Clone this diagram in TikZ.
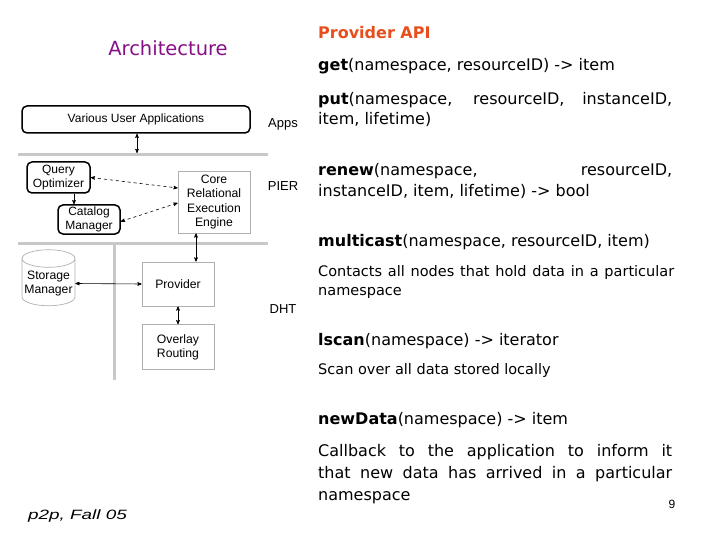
\documentclass[tikz,border=0pt]{standalone}
\usepackage{fontspec}
\setmainfont{DejaVu Sans}
\newfontfamily\archfont{Liberation Sans}
\usetikzlibrary{shapes.geometric,arrows,positioning}
\definecolor{apiorange}{RGB}{232,78,28}
\definecolor{archpurple}{RGB}{135,15,135}
\definecolor{sepgray}{RGB}{200,200,200}
\definecolor{boxgray}{RGB}{175,175,175}

\begin{document}
\begin{tikzpicture}[x=1pt,y=-1pt,
	layerbox/.style={draw,rounded corners=5pt,line width=1.5pt,align=center,inner sep=1pt,font=\archfont\fontsize{12}{14}\selectfont},
	greybox/.style={draw=boxgray,line width=0.7pt,align=center,inner sep=1pt,font=\archfont\fontsize{12.2}{14.5}\selectfont},
	layerlabel/.style={font=\archfont\fontsize{13}{15}\selectfont},
	apitext/.style={anchor=base west,inner sep=0pt,text width=354pt,align=justify,font=\fontsize{16}{20}\selectfont},
	apinote/.style={anchor=base west,inner sep=0pt,text width=356pt,align=justify,font=\fontsize{14.5}{20}\selectfont}]
	\useasboundingbox (0,0) rectangle (720,540);

	\node[archpurple,font=\fontsize{19.5}{22}\selectfont] (title) at (168,48) {Architecture};

	\fill[sepgray] (18,153.5) rectangle (268,156.5);
	\fill[sepgray] (18,241.5) rectangle (268,244.5);
	\fill[sepgray] (112.5,243) rectangle (115.5,380);

	\node[layerbox,minimum width=228pt,minimum height=27pt] (apps) at (136,119.5) {Various User Applications};
	\coordinate (appsend) at (137,153);
	\node[layerbox,minimum width=63pt,minimum height=31pt] (query) at (58.5,177.5) {Query\\Optimizer};
	\node[layerbox,minimum width=62pt,minimum height=29pt] (catalog) at (89,219.5) {Catalog\\Manager};
	\node[greybox,minimum width=72pt,minimum height=62pt] (core) at (214,202) {Core\\Relational\\Execution\\Engine};
	\node[greybox,minimum width=72pt,minimum height=44pt] (provider) at (178,284) {Provider};
	\node[greybox,minimum width=72pt,minimum height=45pt,below=18pt of provider] (overlay) {Overlay\\Routing};
	\node[greybox,cylinder,shape border rotate=90,aspect=0.35,minimum width=53pt,minimum height=56pt] (storage) at (48.5,283.5) {Storage\\Manager};

	\foreach \lbl/\y in {Apps/124,PIER/186,DHT/309}
		\node[layerlabel] (\lbl) at (283,\y) {\lbl};

	\path[<->,>=stealth',semithick]
		([xshift=1pt]apps.south) edge (appsend)
		(storage.east) edge (provider.west)
		(provider.south) edge (overlay.north)
		([xshift=18pt]provider.north) edge ([xshift=18pt]provider.north |- core.south);
	\path[->,>=stealth',semithick]
		([xshift=15.5pt]query.south) edge ([xshift=15.5pt]query.south |- catalog.north);
	\path[<->,>=stealth',semithick,dashed]
		(query.east) edge ([yshift=14pt]core.west)
		([yshift=-2pt]catalog.east) edge ([yshift=-1pt]core.west);

	\node[anchor=base west,inner sep=0pt,apiorange,font=\bfseries\fontsize{16}{20}\selectfont] (head) at (318,38.5) {Provider API};
	\node[apitext] (get) at (318,70.5) {\textbf{get}(namespace, resourceID) -> item};
	\node[apitext] (put) at (318,104.5) {\textbf{put}(namespace, resourceID, instanceID,\linebreak item, lifetime)};
	\node[apitext,font=\fontsize{16}{21}\selectfont] (renew) at (318,175.5) {\textbf{renew}(namespace, \hfill resourceID,\linebreak instanceID, item, lifetime) -> bool};
	\node[apitext] (multicast) at (318,246.5) {\textbf{multicast}(namespace, resourceID, item)};
	\node[apinote] (contacts) at (318,276) {Contacts all nodes that hold data in a particular\linebreak namespace};
	\node[apitext] (lscan) at (318,345.5) {\textbf{lscan}(namespace) -> iterator};
	\node[apinote] (scan) at (318,374) {Scan over all data stored locally};
	\node[apitext] (newdata) at (318,424.5) {\textbf{newData}(namespace) -> item};
	\node[apitext,font=\fontsize{16}{22}\selectfont] (callback) at (318,456.5) {Callback to the application to inform it\linebreak that new data has arrived in a particular\linebreak namespace};

	\node[font=\archfont\fontsize{12}{14}\selectfont] (page) at (672,504) {9};
	\node[font=\archfont\itshape\fontsize{13.5}{15}\selectfont,xscale=1.4,transform shape] (course) at (77.5,516) {p2p, Fall 05};
\end{tikzpicture}
\end{document}
